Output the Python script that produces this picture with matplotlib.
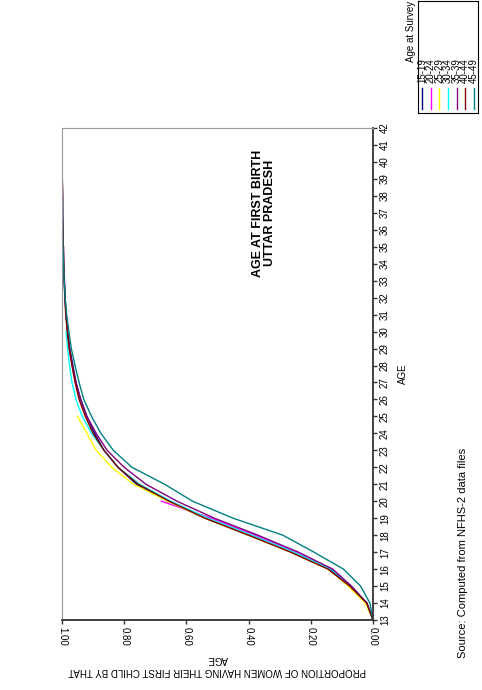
import numpy as np
import matplotlib
matplotlib.use('Agg')
import matplotlib.pyplot as plt
from matplotlib.lines import Line2D

plt.rcParams['font.family'] = ['Liberation Sans', 'DejaVu Sans']

# ages on the (rotated) age axis
ages = list(range(13, 43))

# cumulative proportion having first child by each age, per age-at-survey group
# (each group stops at the youngest age of its survey band)
p_15_19 = [0.00, 0.02, 0.07, 0.14, 0.26, 0.40, 0.54, 0.66, 0.76, 0.82, 0.865, 0.895,
           0.92, 0.94, 0.955, 0.965, 0.975, 0.982, 0.987, 0.99, 0.993, 0.995, 0.996,
           0.997, 0.998, 0.998, 0.999, 0.999, 1.0, 1.0]
p_20_24 = [0.00, 0.02, 0.07, 0.13, 0.25, 0.38, 0.52, 0.68]
p_25_29 = [0.00, 0.025, 0.08, 0.145, 0.265, 0.40, 0.54, 0.66, 0.77, 0.84, 0.89, 0.92, 0.95]
p_30_34 = [0.00, 0.02, 0.07, 0.135, 0.255, 0.39, 0.53, 0.65, 0.75, 0.82, 0.865, 0.905,
           0.935, 0.955, 0.968, 0.976, 0.982, 0.987]
p_35_39 = [0.00, 0.02, 0.07, 0.13, 0.24, 0.37, 0.51, 0.63, 0.73, 0.80, 0.855, 0.89,
           0.92, 0.94, 0.955, 0.967, 0.976, 0.982, 0.987, 0.99, 0.992, 0.994, 0.995]
p_40_44 = [0.00, 0.02, 0.075, 0.145, 0.265, 0.40, 0.54, 0.655, 0.755, 0.82, 0.865, 0.90,
           0.925, 0.945, 0.958, 0.968, 0.977, 0.983, 0.988, 0.991, 0.993, 0.995, 0.996,
           0.997, 0.998, 0.998, 0.999, 0.999]
p_45_49 = [0.00, 0.01, 0.04, 0.095, 0.19, 0.29, 0.45, 0.58, 0.67, 0.775, 0.835, 0.875,
           0.905, 0.93, 0.945, 0.958, 0.97, 0.978, 0.985, 0.99, 0.993, 0.995, 0.997,
           0.998, 0.998, 0.999, 0.999, 1.0, 1.0, 1.0]

groups = ['15-19', '20-24', '25-29', '30-34', '35-39', '40-44', '45-49']
series = [p_15_19, p_20_24, p_25_29, p_30_34, p_35_39, p_40_44, p_45_49]
colors = ['#000080', '#FF00FF', '#FFFF00', '#00FFFF', '#800080', '#800000', '#008080']

xticks = [1.0, 0.8, 0.6, 0.4, 0.2, 0.0]
xticklabels = ['1.00', '0.80', '0.60', '0.40', '0.20', '0.00']

fig = plt.figure(figsize=(4.82, 6.9), dpi=100)
W, H = 482, 690
ax = fig.add_axes([62 / W, 1 - 620 / H, (373 - 62) / W, (620 - 128) / H])

for vals, c in zip(series, colors):
    ax.plot(vals, ages[:len(vals)], color=c, lw=1.0)

ax.set_xlim(1.0, 0.0)
ax.set_ylim(13, 42)
ax.set_xticks(xticks)
ax.set_xticklabels(xticklabels, rotation=-90, fontsize=7)
ax.yaxis.tick_right()
ax.yaxis.set_label_position('right')
ax.set_yticks(ages)
ax.set_yticklabels([str(a) for a in ages], rotation=90, fontsize=7, va='center')
ax.tick_params(direction='out', length=3, width=1, color='#333333', pad=2)

ax.spines['left'].set_color('#999999')
ax.spines['top'].set_color('#999999')
ax.spines['right'].set_color('#333333')
ax.spines['bottom'].set_color('#333333')
ax.spines['right'].set_linewidth(1.3)
ax.spines['bottom'].set_linewidth(1.3)

ax.set_ylabel('AGE', rotation=90, fontsize=7, labelpad=6)
ax.set_xlabel('PROPORTION OF WOMEN HAVING THEIR FIRST CHILD BY THAT\nAGE',
              rotation=180, fontsize=7, labelpad=6, linespacing=1.2)

# title sits inside the empty part of the plot
fig.text(264 / W, 1 - 213 / H, 'AGE AT FIRST BIRTH\nUTTAR PRADESH', rotation=90,
         ha='center', va='center', fontsize=9, fontweight='bold', linespacing=1.1)

# legend (rotated, drawn by hand)
fig.text(411 / W, 1 - 31 / H, 'Age at Survey', rotation=90, ha='center', va='center', fontsize=7)
lax = fig.add_axes([418 / W, 1 - 113 / H, 60 / W, 112 / H])
lax.set_xlim(0, 1)
lax.set_ylim(0, 1)
lax.set_xticks([])
lax.set_yticks([])
for s in lax.spines.values():
    s.set_linewidth(0.8)
for i, (g, c) in enumerate(zip(groups, colors)):
    xc = (i + 0.5) / len(groups)
    lax.add_line(Line2D([xc, xc], [0.04, 0.22], color=c, lw=1.0))
    lax.text(xc, 0.27, g, rotation=90, rotation_mode='anchor', ha='left', va='center', fontsize=7)

fig.text(463 / W, 1 - 553 / H, 'Source: Computed from NFHS-2 data files', rotation=90,
         ha='center', va='center', fontsize=8)

fig.savefig('out.png', dpi=100)
